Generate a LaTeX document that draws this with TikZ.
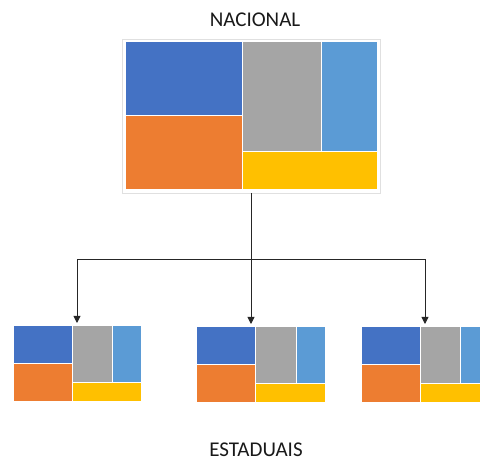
\documentclass[tikz,border=0pt]{standalone}
\usepackage{fontspec}
\setmainfont{Carlito}
\usetikzlibrary{arrows.meta}

\definecolor{tmblue}{HTML}{4472C4}
\definecolor{tmorange}{HTML}{ED7D31}
\definecolor{tmgray}{HTML}{A5A5A5}
\definecolor{tmsky}{HTML}{5B9BD5}
\definecolor{tmyellow}{HTML}{FFC000}

\tikzset{
  tile/.style={draw=white, line width=1pt},
  tmframe/.style={inner sep=0pt, outer sep=0pt},
  link/.style={draw=black!85, line width=0.9pt},
  tip/.style={-{Triangle[length=7pt,width=7pt]}},
  title/.style={font=\fontsize{21}{25}\selectfont, text=black!90},
}

% #1 frame options, #2 name, #3 left, #4 top, #5 width, #6 height
\newcommand{\treemap}[6][]{%
  \node[tmframe, #1, minimum width={#5+6}, minimum height={#6+6}] (#2)
    at ({#3+#5/2},{#4+#6/2}) {};
  \begin{scope}[shift={(#3,#4)}, xscale=#5, yscale=#6]
    \fill[tile, fill=tmblue]   (0,0)    rectangle (.465,.5);
    \fill[tile, fill=tmorange] (0,.5)   rectangle (.465,1);
    \fill[tile, fill=tmgray]   (.465,0) rectangle (.78,.74);
    \fill[tile, fill=tmsky]    (.78,0)  rectangle (1,.74);
    \fill[tile, fill=tmyellow] (.465,.74) rectangle (1,1);
  \end{scope}}

\begin{document}
\begin{tikzpicture}[x=1pt, y=-1pt]
  \clip (0,0) rectangle (480,462);

  % treemaps
  \treemap[draw=black!12, line width=0.8pt]{nacional}{125}{42}{252}{148}
  \treemap{est1}{13}{326}{128}{76}
  \treemap{est2}{196}{327}{129}{76}
  \treemap{est3}{361}{327}{128}{76}

  % titles
  \node[title] (tnac) at (255,20)  {NACIONAL};
  \node[title] (test) at (256,450) {ESTADUAIS};

  % connectors
  \coordinate (split) at (251,259);
  \draw[link] (nacional.south) -- (split);
  \draw[link,tip] (split) -- (split |- est2.north);
  \draw[link,tip] (split) -| (est1.north);
  \draw[link,tip] (split) -| (est3.north);

\end{tikzpicture}
\end{document}
